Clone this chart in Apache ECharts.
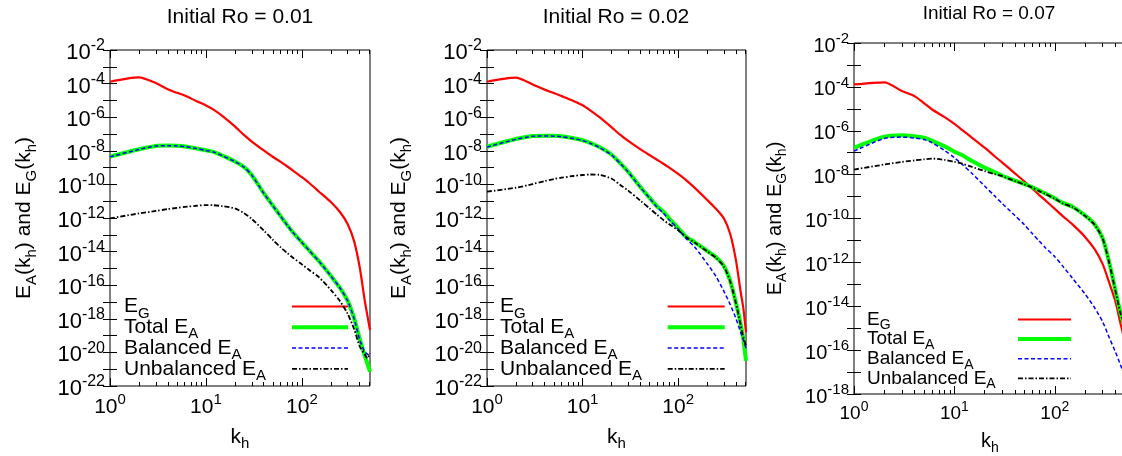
<!DOCTYPE html>
<html>
<head>
<meta charset="utf-8">
<title>Horizontal energy spectra</title>
<script src="https://cdn.jsdelivr.net/npm/echarts@6/dist/echarts.min.js"></script>
<style>
  html, body { margin: 0; padding: 0; background: #ffffff; }
  #chart { width: 1122px; height: 456px; }
</style>
</head>
<body>
<div id="chart"></div>
<script>
// Horizontal wavenumber k_h shared by every spectrum
const K = [1, 2, 3, 4, 5, 6, 8, 10, 12, 15, 20, 25, 30, 40, 50, 60, 70, 80, 100, 120, 150, 200, 250, 300, 350, 400, 450, 480, 512];

// Initial Ro = 0.01
const EG_RO001 = [1.29e-4, 2.34e-4, 1.07e-4, 4.57e-5, 2.82e-5, 1.95e-5, 8.91e-6, 5.01e-6, 2.82e-6, 1.12e-6, 2.82e-7, 8.51e-8, 3.55e-8, 1.05e-8, 4.27e-9, 2.19e-9, 1.20e-9, 6.92e-10, 2.69e-10, 1.17e-10, 3.80e-11, 8.91e-12, 2.19e-12, 4.27e-13, 4.07e-14, 1.17e-15, 1.35e-17, 1.66e-18, 2.14e-19];
const TOTAL_RO001 = [4.47e-9, 1.23e-8, 1.95e-8, 2.04e-8, 2.00e-8, 1.82e-8, 1.38e-8, 1.07e-8, 8.71e-9, 5.01e-9, 2.34e-9, 1.07e-9, 3.63e-10, 3.02e-11, 5.25e-12, 1.29e-12, 3.89e-13, 1.48e-13, 3.55e-14, 1.12e-14, 2.75e-15, 3.63e-16, 6.76e-17, 1.17e-17, 1.05e-18, 6.46e-20, 6.92e-21, 2.24e-21, 7.08e-22];
const BAL_RO001 = [4.37e-9, 1.20e-8, 1.91e-8, 2.00e-8, 1.95e-8, 1.78e-8, 1.35e-8, 1.05e-8, 8.51e-9, 4.90e-9, 2.29e-9, 1.05e-9, 3.55e-10, 2.95e-11, 5.13e-12, 1.26e-12, 3.80e-13, 1.45e-13, 3.47e-14, 1.10e-14, 2.69e-15, 3.55e-16, 6.61e-17, 1.15e-17, 1.02e-18, 5.62e-20, 1.12e-20, 7.94e-21, 6.31e-21];
const UNBAL_RO001 = [9.55e-13, 1.86e-12, 2.63e-12, 3.39e-12, 3.98e-12, 4.57e-12, 5.37e-12, 5.89e-12, 5.75e-12, 5.01e-12, 3.72e-12, 1.91e-12, 8.71e-13, 1.82e-13, 4.90e-14, 1.78e-14, 8.32e-15, 4.47e-15, 1.74e-15, 7.76e-16, 3.02e-16, 5.25e-17, 1.10e-17, 1.95e-18, 2.40e-19, 2.24e-20, 7.94e-21, 4.47e-21, 8.91e-21];

// Initial Ro = 0.02
const EG_RO002 = [1.29e-4, 2.24e-4, 8.91e-5, 4.37e-5, 2.75e-5, 1.82e-5, 9.33e-6, 5.13e-6, 2.57e-6, 1.00e-6, 2.57e-7, 8.51e-8, 3.89e-8, 1.26e-8, 5.62e-9, 2.95e-9, 1.70e-9, 1.02e-9, 4.17e-10, 1.86e-10, 6.03e-11, 1.23e-11, 3.39e-12, 9.55e-13, 1.12e-13, 3.55e-15, 4.07e-17, 4.37e-18, 1.58e-19];
const TOTAL_RO002 = [1.74e-8, 5.01e-8, 7.59e-8, 7.94e-8, 7.76e-8, 7.24e-8, 5.62e-8, 4.27e-8, 2.95e-8, 1.66e-8, 6.03e-9, 1.74e-9, 5.62e-10, 7.24e-11, 1.62e-11, 5.01e-12, 2.40e-12, 1.00e-12, 2.51e-13, 7.94e-14, 3.55e-14, 1.12e-14, 4.47e-15, 1.41e-15, 1.78e-16, 1.00e-17, 5.01e-19, 6.31e-20, 3.16e-21];
const BAL_RO002 = [1.66e-8, 4.79e-8, 7.24e-8, 7.59e-8, 7.41e-8, 6.92e-8, 5.37e-8, 4.07e-8, 2.82e-8, 1.58e-8, 5.75e-9, 1.66e-9, 5.37e-10, 6.92e-11, 1.55e-11, 4.47e-12, 2.00e-12, 7.94e-13, 2.24e-13, 6.31e-14, 1.78e-14, 2.00e-15, 3.16e-16, 4.47e-17, 7.08e-18, 1.12e-18, 1.58e-19, 5.62e-20, 1.78e-20];
const UNBAL_RO002 = [3.72e-11, 6.31e-11, 1.05e-10, 1.58e-10, 2.09e-10, 2.51e-10, 3.16e-10, 3.63e-10, 3.89e-10, 3.72e-10, 2.24e-10, 8.91e-11, 4.27e-11, 1.10e-11, 3.80e-12, 1.58e-12, 7.59e-13, 4.37e-13, 1.86e-13, 7.59e-14, 3.31e-14, 1.05e-14, 4.17e-15, 1.32e-15, 1.66e-16, 9.33e-18, 4.47e-19, 7.94e-20, 2.51e-20];

// Initial Ro = 0.07
const EG_RO007 = [1.29e-4, 1.62e-4, 6.46e-5, 3.80e-5, 1.78e-5, 9.33e-6, 4.17e-6, 2.04e-6, 1.07e-6, 4.79e-7, 1.70e-7, 7.08e-8, 3.55e-8, 1.15e-8, 4.79e-9, 2.24e-9, 1.17e-9, 6.92e-10, 2.75e-10, 1.29e-10, 5.37e-11, 1.45e-11, 3.89e-12, 8.32e-13, 1.12e-13, 1.78e-14, 1.74e-15, 5.01e-16, 1.00e-16];
const TOTAL_RO007 = [1.66e-7, 5.37e-7, 6.31e-7, 5.62e-7, 4.79e-7, 3.47e-7, 1.95e-7, 1.12e-7, 7.59e-8, 4.17e-8, 2.09e-8, 1.32e-8, 8.91e-9, 5.37e-9, 3.72e-9, 2.63e-9, 1.86e-9, 1.41e-9, 8.32e-10, 5.13e-10, 3.47e-10, 1.38e-10, 5.37e-11, 1.26e-11, 9.12e-13, 5.75e-14, 5.25e-15, 2.00e-15, 5.01e-16];
const BAL_RO007 = [1.17e-7, 4.47e-7, 5.13e-7, 4.68e-7, 3.98e-7, 2.82e-7, 1.26e-7, 5.89e-8, 2.88e-8, 1.12e-8, 3.02e-9, 1.10e-9, 4.79e-10, 1.38e-10, 5.13e-11, 2.00e-11, 9.33e-12, 4.79e-12, 1.82e-12, 6.76e-13, 1.91e-13, 3.63e-14, 8.32e-15, 1.95e-15, 3.55e-16, 8.71e-17, 2.19e-17, 1.00e-17, 3.98e-18];
const UNBAL_RO007 = [1.70e-8, 2.88e-8, 3.80e-8, 4.47e-8, 5.01e-8, 5.37e-8, 4.68e-8, 3.80e-8, 3.16e-8, 2.24e-8, 1.45e-8, 1.07e-8, 8.51e-9, 5.13e-9, 3.55e-9, 2.51e-9, 1.78e-9, 1.35e-9, 7.94e-10, 4.90e-10, 3.31e-10, 1.32e-10, 5.13e-11, 1.20e-11, 8.71e-13, 5.50e-14, 5.01e-15, 1.91e-15, 4.79e-16];

// Panel captions and axis ranges (decades)
const TITLES = ['Initial Ro = 0.01', 'Initial Ro = 0.02', 'Initial Ro = 0.07'];
const Y_MIN_EXP = [-22, -22, -18];
const Y_MAX_EXP = -2;
const Y_LABEL_STEP = 2;
const K_MAX = 512;
const X_MAJOR = [1, 10, 100];
const X_MINOR = [2, 3, 4, 5, 6, 7, 8, 9, 20, 30, 40, 50, 60, 70, 80, 90, 200, 300, 400, 500];
const SERIES_NAMES = ['E_G', 'Total E_A', 'Balanced E_A', 'Unbalanced E_A'];
const PANEL_DATA = [
  [EG_RO001, TOTAL_RO001, BAL_RO001, UNBAL_RO001],
  [EG_RO002, TOTAL_RO002, BAL_RO002, UNBAL_RO002],
  [EG_RO007, TOTAL_RO007, BAL_RO007, UNBAL_RO007]
];

// ---- presentation ----
const FONT = '"Liberation Sans", Arial, Helvetica, sans-serif';

const LAYOUT = [
  { grid: { left: 110, top: 50, width: 260, height: 336 },
    title: { x: 240, y: 17, size: 21 },
    xTick: { base: 21, sup: 15 }, yTick: { base: 22, sup: 16 },
    name: { base: 21, sub: 15, drop: 14 }, yNameGap: 74.5, xNameGap: 37.7,
    legend: { left: 124, top: 292, textWidth: 163, itemWidth: 56, gap: -8.2, base: 21, sub: 15, drop: 14 } },
  { grid: { left: 487, top: 50, width: 259, height: 336 },
    title: { x: 616, y: 17, size: 21 },
    xTick: { base: 21, sup: 15 }, yTick: { base: 22, sup: 16 },
    name: { base: 21, sub: 15, drop: 14 }, yNameGap: 76.5, xNameGap: 37.7,
    legend: { left: 500, top: 292, textWidth: 162.7, itemWidth: 57, gap: -8.2, base: 21, sub: 15, drop: 14 } },
  { grid: { left: 854, top: 43, width: 272, height: 351 },
    title: { x: 989, y: 14, size: 19 },
    xTick: { base: 19, sup: 14 }, yTick: { base: 20, sup: 15 },
    name: { base: 20, sub: 14, drop: 13 }, yNameGap: 67.8, xNameGap: 31,
    legend: { left: 867, top: 306.5, textWidth: 146, itemWidth: 53, gap: -6.4, base: 19, sub: 14, drop: 12 } }
];

const LINE_STYLES = {
  'E_G':            { color: '#ff0000', width: 2.2, type: 'solid', z: 2 },
  'Total E_A':      { color: '#00ff00', width: 4,   type: 'solid', z: 3 },
  'Balanced E_A':   { color: '#0000ff', width: 1.5, type: [4, 2.5], z: 4 },
  'Unbalanced E_A': { color: '#000000', width: 1.8, type: [5, 2, 1.5, 2], z: 5 }
};

const LEGEND_TEXT = {
  'E_G': '{n|E}{u|G}',
  'Total E_A': '{n|Total E}{u|A}',
  'Balanced E_A': '{n|Balanced E}{u|A}',
  'Unbalanced E_A': '{n|Unbalanced E}{u|A}'
};
const Y_NAME = '{n|E}{u|A}{n|(k}{u|h}{n|) and E}{u|G}{n|(k}{u|h}{n|)}';
const X_NAME = '{n|k}{u|h}';

function powerRich(base, sup) {
  return {
    b: { fontFamily: FONT, fontSize: base, lineHeight: base + 1, padding: [6, 0, 0, 0], color: '#000' },
    s: { fontFamily: FONT, fontSize: sup, lineHeight: sup + 1, padding: [0, 0, 8, 0], color: '#000' }
  };
}
function subRich(base, sub, drop) {
  return {
    n: { fontFamily: FONT, fontSize: base, lineHeight: base + 1, color: '#000', align: 'left' },
    u: { fontFamily: FONT, fontSize: sub, lineHeight: sub + 1, padding: [drop, 0, 0, 0], color: '#000', align: 'left' }
  };
}
const powerLabel = v => '{b|10}{s|' + Math.round(v) + '}';

function decadeLabels(minExp, maxExp, step) {
  const out = [];
  for (let e = minExp; e <= maxExp; e += step) out.push(e);
  return out;
}

const grids = [], xAxes = [], yAxes = [], series = [], legends = [], graphics = [];

LAYOUT.forEach((L, g) => {
  grids.push(Object.assign({ show: true, borderColor: '#000', borderWidth: 1, backgroundColor: 'transparent',
    containLabel: false, outerBoundsMode: 'none' }, L.grid));

  const xMax = Math.log10(K_MAX);
  const majors = X_MAJOR.map(Math.log10);
  const minors = X_MINOR.map(Math.log10);
  const xBase = { type: 'value', gridIndex: g, min: 0, max: xMax, splitLine: { show: false }, axisLine: { show: false } };
  const tickStyle = { color: '#000', width: 1 };

  xAxes.push(Object.assign({}, xBase, {
    position: 'bottom',
    axisTick: { show: true, inside: true, length: 8, customValues: majors, lineStyle: tickStyle },
    axisLabel: { show: true, customValues: majors, margin: 7, formatter: powerLabel, rich: powerRich(L.xTick.base, L.xTick.sup) },
    name: X_NAME, nameLocation: 'middle', nameGap: L.xNameGap,
    nameTextStyle: { rich: subRich(L.name.base, L.name.sub, L.name.drop) }
  }));
  xAxes.push(Object.assign({}, xBase, {
    position: 'bottom',
    axisTick: { show: true, inside: true, length: 4, customValues: minors, lineStyle: tickStyle },
    axisLabel: { show: false }
  }));
  xAxes.push(Object.assign({}, xBase, {
    position: 'top',
    axisTick: { show: true, inside: true, length: 8, customValues: majors, lineStyle: tickStyle },
    axisLabel: { show: false }
  }));
  xAxes.push(Object.assign({}, xBase, {
    position: 'top',
    axisTick: { show: true, inside: true, length: 4, customValues: minors, lineStyle: tickStyle },
    axisLabel: { show: false }
  }));

  const yBase = { type: 'value', gridIndex: g, min: Y_MIN_EXP[g], max: Y_MAX_EXP, interval: 1,
    splitLine: { show: false }, axisLine: { show: false } };
  yAxes.push(Object.assign({}, yBase, {
    position: 'left',
    axisTick: { show: true, inside: true, length: 7, lineStyle: tickStyle },
    axisLabel: { show: true, customValues: decadeLabels(Y_MIN_EXP[g], Y_MAX_EXP, Y_LABEL_STEP),
      showMinLabel: true, showMaxLabel: true, hideOverlap: false,
      margin: 5, formatter: powerLabel, rich: powerRich(L.yTick.base, L.yTick.sup) },
    name: Y_NAME, nameLocation: 'middle', nameRotate: 90, nameGap: L.yNameGap,
    nameTextStyle: { rich: subRich(L.name.base, L.name.sub, L.name.drop) }
  }));
  yAxes.push(Object.assign({}, yBase, {
    position: 'right',
    axisTick: { show: true, inside: true, length: 7, lineStyle: tickStyle },
    axisLabel: { show: false }
  }));

  SERIES_NAMES.forEach((name, s) => {
    const st = LINE_STYLES[name];
    const values = PANEL_DATA[g][s];
    series.push({
      type: 'line', name: name,
      xAxisIndex: 4 * g, yAxisIndex: 2 * g,
      data: K.map((k, i) => [Math.log10(k), Math.log10(values[i])]),
      symbol: 'none', showSymbol: false, silent: true, z: st.z,
      smooth: 0.25,
      itemStyle: { color: st.color },
      lineStyle: { color: st.color, width: st.width, type: st.type, cap: 'butt', join: 'round' }
    });
  });

  const LG = L.legend;
  legends.push({
    show: true, orient: 'vertical', align: 'right',
    left: LG.left, top: LG.top, padding: 0,
    itemWidth: LG.itemWidth, itemHeight: 14, itemGap: LG.gap,
    selectedMode: false,
    data: SERIES_NAMES,
    itemStyle: { opacity: 0, borderWidth: 0 },
    lineStyle: { width: 'inherit', type: 'inherit' },
    formatter: name => LEGEND_TEXT[name],
    textStyle: { width: LG.textWidth, color: '#000', rich: subRich(LG.base, LG.sub, LG.drop) }
  });

  graphics.push({
    type: 'text', x: L.title.x, y: L.title.y, silent: true,
    style: { text: TITLES[g], font: L.title.size + 'px ' + FONT, fill: '#000',
      align: 'center', verticalAlign: 'middle', textAlign: 'center', textVerticalAlign: 'middle' }
  });
});

const chart = echarts.init(document.getElementById('chart'), null, { renderer: 'canvas' });
chart.setOption({
  backgroundColor: '#ffffff',
  animation: false,
  textStyle: { fontFamily: FONT, color: '#000' },
  grid: grids,
  xAxis: xAxes,
  yAxis: yAxes,
  legend: legends,
  graphic: graphics,
  series: series
});
</script>
</body>
</html>
